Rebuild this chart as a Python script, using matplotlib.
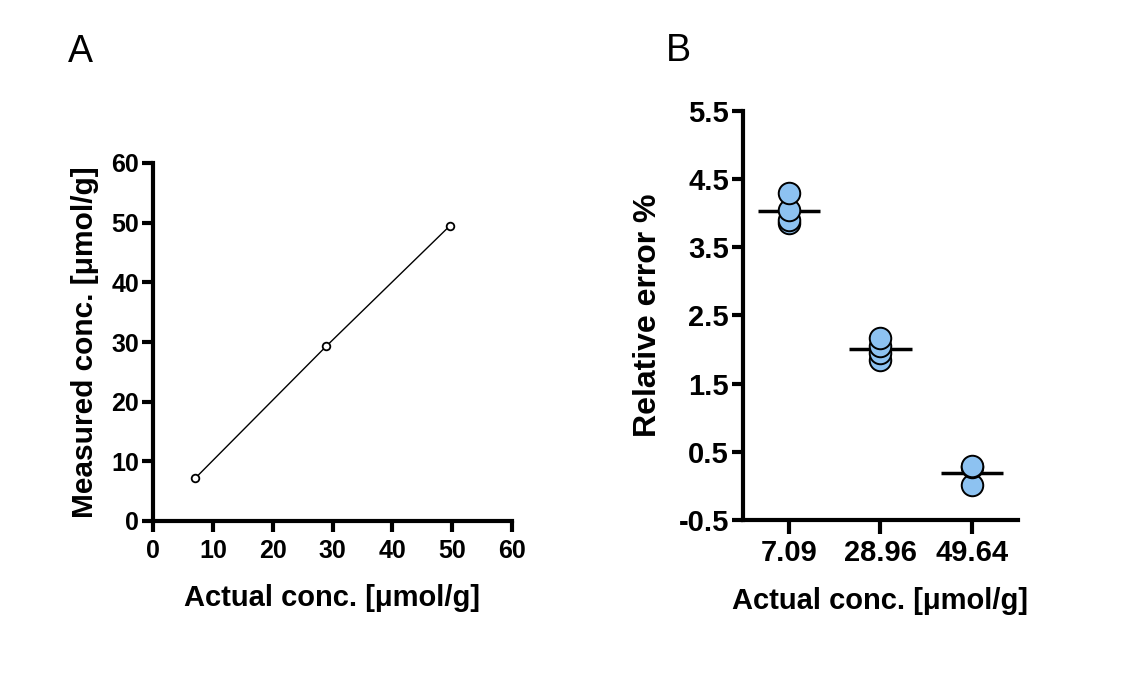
import matplotlib
matplotlib.use("Agg")
import matplotlib.pyplot as plt
import numpy as np

plt.rcParams['font.family'] = ['Liberation Sans', 'DejaVu Sans']

# Panel A data
actual_conc = [7.09, 28.96, 49.64]
measured_conc = [7.2, 29.3, 49.5]
a_xticks = [0, 10, 20, 30, 40, 50, 60]
a_yticks = [0, 10, 20, 30, 40, 50, 60]

# Panel B data
categories = ["7.09", "28.96", "49.64"]
err_709 = [3.85, 3.90, 4.05, 4.30]
err_2896 = [1.85, 1.95, 2.05, 2.17]
err_4964 = [0.02, 0.27, 0.29]
b_yticks = [-0.5, 0.5, 1.5, 2.5, 3.5, 4.5, 5.5]

W, H = 1125, 673
fig = plt.figure(figsize=(W / 100, H / 100), dpi=100)

spine_lw = 3.0

def style(ax, tick_fs):
    for s in ['top', 'right']:
        ax.spines[s].set_visible(False)
    for s in ['left', 'bottom']:
        ax.spines[s].set_linewidth(spine_lw)
        ax.spines[s].set_capstyle('projecting')
    ax.tick_params(width=spine_lw, length=8, labelsize=tick_fs, pad=3)
    for lab in ax.get_xticklabels() + ax.get_yticklabels():
        lab.set_fontweight('bold')

# ---------------- Panel A ----------------
axA = fig.add_axes([153 / W, 1 - 521 / H, 359 / W, 358 / H])
axA.plot(actual_conc, measured_conc, color='black', lw=1.0,
         marker='o', ms=5.5, mfc='white', mec='black', mew=1.3, zorder=3)
axA.set_xlim(0, 60)
axA.set_ylim(0, 60)
axA.set_xticks(a_xticks)
axA.set_yticks(a_yticks)
style(axA, 18)
axA.tick_params(axis='x', pad=5)
axA.tick_params(axis='y', pad=2)
axA.set_xlabel('Actual conc. [\u03bcmol/g]', fontsize=21, fontweight='bold', labelpad=15)
axA.set_ylabel('Measured conc. [\u03bcmol/g]', fontsize=21.5, fontweight='bold', labelpad=9)

# ---------------- Panel B ----------------
axB = fig.add_axes([743 / W, 1 - 520 / H, 275 / W, 409.3 / H])
groups = [err_709, err_2896, err_4964]
xs = np.arange(1, len(categories) + 1)
for x, vals in zip(xs, groups):
    for v in sorted(vals):
        axB.plot([x], [v], marker='o', ms=15.5, mfc='#8DC2F1', mec='black',
                 mew=1.4, ls='none', zorder=4, clip_on=False)
    m = np.mean(vals)
    axB.plot([x - 0.34, x + 0.34], [m, m], color='black', lw=2.5, zorder=3,
             solid_capstyle='butt')
axB.set_xlim(0.5, 3.5)
axB.set_ylim(-0.5, 5.5)
axB.set_xticks(xs)
axB.set_xticklabels(categories)
axB.set_yticks(b_yticks)
axB.set_yticklabels([str(t) for t in b_yticks])
style(axB, 21)
axB.tick_params(axis='x', length=10, pad=4)
axB.tick_params(axis='y', pad=2)
axB.set_xlabel('Actual conc. [\u03bcmol/g]', fontsize=21, fontweight='bold', labelpad=14)
axB.set_ylabel('Relative error %', fontsize=23, fontweight='bold', labelpad=11)

# Panel letters
fig.text(68 / W, 1 - 62 / H, 'A', fontsize=27, ha='left', va='baseline')
fig.text(666 / W, 1 - 61 / H, 'B', fontsize=27, ha='left', va='baseline')

fig.savefig('out.png', dpi=100, facecolor='white')
